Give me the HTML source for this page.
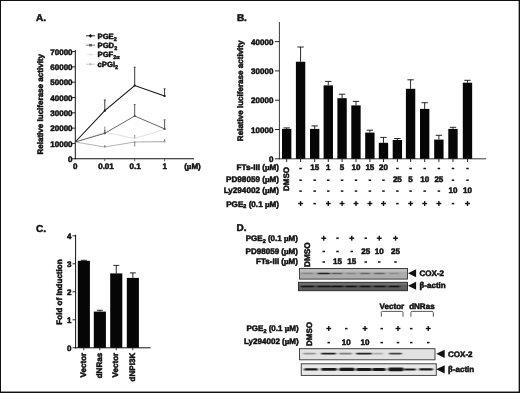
<!DOCTYPE html>
<html><head><meta charset="utf-8"><title>Figure</title>
<style>
html,body{margin:0;padding:0;background:#fff;}
body{width:520px;height:393px;overflow:hidden;position:relative;}
svg{position:absolute;left:0;top:0;display:block;text-rendering:geometricPrecision;}
text{stroke:#111;stroke-width:0.5px;stroke-linejoin:round;font-family:'Liberation Sans', Arial, Helvetica, sans-serif;}
</style></head>
<body>
<svg width="520" height="393" viewBox="0 0 520 393">
<rect x="0" y="0" width="520" height="393" fill="#fff"/>
<text x="36" y="21.1" font-size="10" text-anchor="start" fill="#111" font-weight="bold">A.</text>
<line x1="86" y1="35.8" x2="95" y2="35.8" stroke="#111" stroke-width="0.9"/>
<polygon points="90.5,33.9 92.4,35.8 90.5,37.699999999999996 88.6,35.8" fill="#111"/>
<text x="97.5" y="38.599999999999994" font-size="7.7" font-weight="bold" fill="#111">PGE<tspan font-size="5.4" dy="2">2</tspan></text>
<line x1="86" y1="45.2" x2="95" y2="45.2" stroke="#666" stroke-width="0.9"/>
<rect x="89.2" y="43.900000000000006" width="2.6" height="2.6" fill="#555"/>
<text x="97.5" y="48.0" font-size="7.7" font-weight="bold" fill="#111">PGD<tspan font-size="5.4" dy="2">2</tspan></text>
<line x1="86" y1="54.6" x2="95" y2="54.6" stroke="#e4e4e4" stroke-width="0.9"/>
<circle cx="90.5" cy="54.6" r="1.3" fill="#e4e4e4"/>
<text x="97.5" y="57.4" font-size="7.7" font-weight="bold" fill="#111">PGF<tspan font-size="5.4" dy="2">2α</tspan></text>
<line x1="86" y1="64.2" x2="95" y2="64.2" stroke="#c4c4c4" stroke-width="0.9"/>
<circle cx="90.5" cy="64.2" r="1.3" fill="#c4c4c4"/>
<text x="97.5" y="67.0" font-size="7.7" font-weight="bold" fill="#111">cPGI<tspan font-size="5.4" dy="2">2</tspan></text>
<line x1="75.3" y1="50" x2="75.3" y2="159.25" stroke="#111" stroke-width="1"/>
<line x1="74.8" y1="158.75" x2="194" y2="158.75" stroke="#111" stroke-width="1"/>
<line x1="72.1" y1="158.75" x2="75.3" y2="158.75" stroke="#111" stroke-width="0.9"/>
<text x="72.6" y="161.85" font-size="8.05" text-anchor="end" fill="#111" font-weight="bold">0</text>
<line x1="72.1" y1="143.44" x2="75.3" y2="143.44" stroke="#111" stroke-width="0.9"/>
<text x="72.6" y="146.54" font-size="8.05" text-anchor="end" fill="#111" font-weight="bold">10000</text>
<line x1="72.1" y1="128.13" x2="75.3" y2="128.13" stroke="#111" stroke-width="0.9"/>
<text x="72.6" y="131.23" font-size="8.05" text-anchor="end" fill="#111" font-weight="bold">20000</text>
<line x1="72.1" y1="112.82" x2="75.3" y2="112.82" stroke="#111" stroke-width="0.9"/>
<text x="72.6" y="115.91999999999999" font-size="8.05" text-anchor="end" fill="#111" font-weight="bold">30000</text>
<line x1="72.1" y1="97.50999999999999" x2="75.3" y2="97.50999999999999" stroke="#111" stroke-width="0.9"/>
<text x="72.6" y="100.60999999999999" font-size="8.05" text-anchor="end" fill="#111" font-weight="bold">40000</text>
<line x1="72.1" y1="82.2" x2="75.3" y2="82.2" stroke="#111" stroke-width="0.9"/>
<text x="72.6" y="85.3" font-size="8.05" text-anchor="end" fill="#111" font-weight="bold">50000</text>
<line x1="72.1" y1="66.89" x2="75.3" y2="66.89" stroke="#111" stroke-width="0.9"/>
<text x="72.6" y="69.99" font-size="8.05" text-anchor="end" fill="#111" font-weight="bold">60000</text>
<line x1="72.1" y1="51.58" x2="75.3" y2="51.58" stroke="#111" stroke-width="0.9"/>
<text x="72.6" y="54.68" font-size="8.05" text-anchor="end" fill="#111" font-weight="bold">70000</text>
<text x="75.3" y="168.5" font-size="8.05" text-anchor="middle" fill="#111" font-weight="bold">0</text>
<text x="106.0" y="168.5" font-size="8.05" text-anchor="middle" fill="#111" font-weight="bold">0.01</text>
<line x1="104.8" y1="158.75" x2="104.8" y2="161.15" stroke="#333" stroke-width="0.8"/>
<text x="135.2" y="168.5" font-size="8.05" text-anchor="middle" fill="#111" font-weight="bold">0.1</text>
<line x1="134.7" y1="158.75" x2="134.7" y2="161.15" stroke="#333" stroke-width="0.8"/>
<text x="164.79999999999998" y="168.5" font-size="8.05" text-anchor="middle" fill="#111" font-weight="bold">1</text>
<line x1="164.6" y1="158.75" x2="164.6" y2="161.15" stroke="#333" stroke-width="0.8"/>
<text x="192.5" y="168.5" font-size="8.05" font-weight="bold" text-anchor="middle" fill="#111">(<tspan font-family="Liberation Serif, serif" font-weight="bold">μ</tspan>M)</text>
<text x="43.3" y="104.3" font-size="8.05" text-anchor="middle" fill="#111" font-weight="bold" transform="rotate(-90 43.3 104.3)">Relative luciferase activity</text>
<polyline points="75.2,142 104.8,132.2 134.7,138.5 164.6,129.2" fill="none" stroke="#e2e2e2" stroke-width="1"/>
<circle cx="104.8" cy="132.2" r="1.1" fill="#e2e2e2"/>
<circle cx="134.7" cy="138.5" r="1.1" fill="#e2e2e2"/>
<circle cx="164.6" cy="129.2" r="1.1" fill="#e2e2e2"/>
<line x1="104.8" y1="131" x2="104.8" y2="127" stroke="#888" stroke-width="0.9"/>
<line x1="104.3" y1="127" x2="105.3" y2="127" stroke="#888" stroke-width="0.8"/>
<line x1="134.7" y1="138" x2="134.7" y2="135.5" stroke="#888" stroke-width="0.9"/>
<line x1="134.2" y1="135.5" x2="135.2" y2="135.5" stroke="#888" stroke-width="0.8"/>
<polyline points="75.2,142 104.8,147.0 134.7,142 164.6,141.6" fill="none" stroke="#b4b4b4" stroke-width="1.1"/>
<circle cx="104.8" cy="147.0" r="1.1" fill="#b4b4b4"/>
<circle cx="134.7" cy="142" r="1.1" fill="#b4b4b4"/>
<circle cx="164.6" cy="141.6" r="1.1" fill="#b4b4b4"/>
<line x1="104.8" y1="147" x2="104.8" y2="145.6" stroke="#777" stroke-width="0.9"/>
<line x1="104.3" y1="145.6" x2="105.3" y2="145.6" stroke="#777" stroke-width="0.8"/>
<line x1="134.7" y1="142" x2="134.7" y2="146" stroke="#777" stroke-width="0.9"/>
<line x1="134.2" y1="146" x2="135.2" y2="146" stroke="#777" stroke-width="0.8"/>
<line x1="164.6" y1="141.6" x2="164.6" y2="139.5" stroke="#777" stroke-width="0.9"/>
<line x1="164.1" y1="139.5" x2="165.1" y2="139.5" stroke="#777" stroke-width="0.8"/>
<polyline points="75.2,142 104.8,133.3 134.7,116 164.6,128.9" fill="none" stroke="#555" stroke-width="0.9"/>
<circle cx="104.8" cy="133.3" r="1.1" fill="#555"/>
<circle cx="134.7" cy="116" r="1.1" fill="#555"/>
<circle cx="164.6" cy="128.9" r="1.1" fill="#555"/>
<line x1="134.7" y1="116" x2="134.7" y2="104.6" stroke="#444" stroke-width="0.9"/>
<line x1="133.7" y1="104.6" x2="135.7" y2="104.6" stroke="#444" stroke-width="0.8"/>
<line x1="164.6" y1="128.9" x2="164.6" y2="119.8" stroke="#444" stroke-width="0.9"/>
<line x1="163.6" y1="119.8" x2="165.6" y2="119.8" stroke="#444" stroke-width="0.8"/>
<line x1="104.8" y1="133.3" x2="104.8" y2="130.5" stroke="#444" stroke-width="0.8"/>
<line x1="104.3" y1="130.5" x2="105.3" y2="130.5" stroke="#444" stroke-width="0.8"/>
<polyline points="75.2,142 104.8,110.7 134.7,85.5 164.6,96.0" fill="none" stroke="#111" stroke-width="1.05"/>
<circle cx="104.8" cy="110.7" r="1.1" fill="#111"/>
<circle cx="134.7" cy="85.5" r="1.1" fill="#111"/>
<circle cx="164.6" cy="96.0" r="1.1" fill="#111"/>
<line x1="104.8" y1="110.7" x2="104.8" y2="100" stroke="#222" stroke-width="0.9"/>
<line x1="103.8" y1="100" x2="105.8" y2="100" stroke="#222" stroke-width="0.8"/>
<line x1="134.7" y1="85.5" x2="134.7" y2="67.2" stroke="#222" stroke-width="0.9"/>
<line x1="133.7" y1="67.2" x2="135.7" y2="67.2" stroke="#222" stroke-width="0.8"/>
<line x1="164.6" y1="96" x2="164.6" y2="88.8" stroke="#222" stroke-width="0.9"/>
<line x1="163.6" y1="88.8" x2="165.6" y2="88.8" stroke="#222" stroke-width="0.8"/>
<text x="236.9" y="20.6" font-size="10" text-anchor="start" fill="#111" font-weight="bold">B.</text>
<line x1="279.4" y1="22" x2="279.4" y2="159.25" stroke="#222" stroke-width="0.9"/>
<line x1="278.95" y1="158.8" x2="486.2" y2="158.8" stroke="#222" stroke-width="0.9"/>
<line x1="274.9" y1="158.8" x2="279.4" y2="158.8" stroke="#111" stroke-width="0.9"/>
<text x="273.4" y="161.8" font-size="8.05" text-anchor="end" fill="#111" font-weight="bold">0</text>
<line x1="274.9" y1="129.5" x2="279.4" y2="129.5" stroke="#111" stroke-width="0.9"/>
<text x="273.4" y="132.5" font-size="8.05" text-anchor="end" fill="#111" font-weight="bold">10000</text>
<line x1="274.9" y1="100.20000000000002" x2="279.4" y2="100.20000000000002" stroke="#111" stroke-width="0.9"/>
<text x="273.4" y="103.20000000000002" font-size="8.05" text-anchor="end" fill="#111" font-weight="bold">20000</text>
<line x1="274.9" y1="70.9" x2="279.4" y2="70.9" stroke="#111" stroke-width="0.9"/>
<text x="273.4" y="73.9" font-size="8.05" text-anchor="end" fill="#111" font-weight="bold">30000</text>
<line x1="274.9" y1="41.60000000000001" x2="279.4" y2="41.60000000000001" stroke="#111" stroke-width="0.9"/>
<text x="273.4" y="44.60000000000001" font-size="8.05" text-anchor="end" fill="#111" font-weight="bold">40000</text>
<text x="242.7" y="90.8" font-size="8.05" text-anchor="middle" fill="#111" font-weight="bold" transform="rotate(-90 242.7 90.8)">Relative luciferase activity</text>
<rect x="282.00" y="128.90" width="9.35" height="29.90" fill="#060606"/>
<line x1="286.68" y1="128.9" x2="286.68" y2="127.9" stroke="#111" stroke-width="0.9"/>
<line x1="283.48" y1="127.9" x2="289.88" y2="127.9" stroke="#111" stroke-width="0.9"/>
<line x1="286.68" y1="158.8" x2="286.68" y2="162.0" stroke="#111" stroke-width="0.9"/>
<rect x="295.90" y="61.75" width="9.35" height="97.05" fill="#060606"/>
<line x1="300.58" y1="61.75" x2="300.58" y2="47" stroke="#111" stroke-width="0.9"/>
<line x1="297.38" y1="47" x2="303.78" y2="47" stroke="#111" stroke-width="0.9"/>
<line x1="300.58" y1="158.8" x2="300.58" y2="162.0" stroke="#111" stroke-width="0.9"/>
<rect x="310.00" y="128.90" width="9.35" height="29.90" fill="#060606"/>
<line x1="314.68" y1="128.9" x2="314.68" y2="125.9" stroke="#111" stroke-width="0.9"/>
<line x1="311.48" y1="125.9" x2="317.88" y2="125.9" stroke="#111" stroke-width="0.9"/>
<line x1="314.68" y1="158.8" x2="314.68" y2="162.0" stroke="#111" stroke-width="0.9"/>
<rect x="323.60" y="85.40" width="9.35" height="73.40" fill="#060606"/>
<line x1="328.28000000000003" y1="85.4" x2="328.28000000000003" y2="81.4" stroke="#111" stroke-width="0.9"/>
<line x1="325.08000000000004" y1="81.4" x2="331.48" y2="81.4" stroke="#111" stroke-width="0.9"/>
<line x1="328.28000000000003" y1="158.8" x2="328.28000000000003" y2="162.0" stroke="#111" stroke-width="0.9"/>
<rect x="337.40" y="98.20" width="9.35" height="60.60" fill="#060606"/>
<line x1="342.08" y1="98.2" x2="342.08" y2="94.2" stroke="#111" stroke-width="0.9"/>
<line x1="338.88" y1="94.2" x2="345.28" y2="94.2" stroke="#111" stroke-width="0.9"/>
<line x1="342.08" y1="158.8" x2="342.08" y2="162.0" stroke="#111" stroke-width="0.9"/>
<rect x="351.30" y="105.40" width="9.35" height="53.40" fill="#060606"/>
<line x1="355.98" y1="105.4" x2="355.98" y2="101.4" stroke="#111" stroke-width="0.9"/>
<line x1="352.78000000000003" y1="101.4" x2="359.18" y2="101.4" stroke="#111" stroke-width="0.9"/>
<line x1="355.98" y1="158.8" x2="355.98" y2="162.0" stroke="#111" stroke-width="0.9"/>
<rect x="365.20" y="132.60" width="9.35" height="26.20" fill="#060606"/>
<line x1="369.88" y1="132.6" x2="369.88" y2="130.2" stroke="#111" stroke-width="0.9"/>
<line x1="366.68" y1="130.2" x2="373.08" y2="130.2" stroke="#111" stroke-width="0.9"/>
<line x1="369.88" y1="158.8" x2="369.88" y2="162.0" stroke="#111" stroke-width="0.9"/>
<rect x="378.80" y="142.80" width="9.35" height="16.00" fill="#060606"/>
<line x1="383.48" y1="142.8" x2="383.48" y2="137.4" stroke="#111" stroke-width="0.9"/>
<line x1="380.28000000000003" y1="137.4" x2="386.68" y2="137.4" stroke="#111" stroke-width="0.9"/>
<line x1="383.48" y1="158.8" x2="383.48" y2="162.0" stroke="#111" stroke-width="0.9"/>
<rect x="392.70" y="140.00" width="9.35" height="18.80" fill="#060606"/>
<line x1="397.38" y1="140" x2="397.38" y2="138.5" stroke="#111" stroke-width="0.9"/>
<line x1="394.18" y1="138.5" x2="400.58" y2="138.5" stroke="#111" stroke-width="0.9"/>
<line x1="397.38" y1="158.8" x2="397.38" y2="162.0" stroke="#111" stroke-width="0.9"/>
<rect x="405.90" y="88.80" width="9.35" height="70.00" fill="#060606"/>
<line x1="410.58" y1="88.8" x2="410.58" y2="79.8" stroke="#111" stroke-width="0.9"/>
<line x1="407.38" y1="79.8" x2="413.78" y2="79.8" stroke="#111" stroke-width="0.9"/>
<line x1="410.58" y1="158.8" x2="410.58" y2="162.0" stroke="#111" stroke-width="0.9"/>
<rect x="420.00" y="108.90" width="9.35" height="49.90" fill="#060606"/>
<line x1="424.68" y1="108.9" x2="424.68" y2="102.7" stroke="#111" stroke-width="0.9"/>
<line x1="421.48" y1="102.7" x2="427.88" y2="102.7" stroke="#111" stroke-width="0.9"/>
<line x1="424.68" y1="158.8" x2="424.68" y2="162.0" stroke="#111" stroke-width="0.9"/>
<rect x="434.20" y="139.60" width="9.35" height="19.20" fill="#060606"/>
<line x1="438.88" y1="139.6" x2="438.88" y2="135.3" stroke="#111" stroke-width="0.9"/>
<line x1="435.68" y1="135.3" x2="442.08" y2="135.3" stroke="#111" stroke-width="0.9"/>
<line x1="438.88" y1="158.8" x2="438.88" y2="162.0" stroke="#111" stroke-width="0.9"/>
<rect x="448.30" y="128.90" width="9.35" height="29.90" fill="#060606"/>
<line x1="452.98" y1="128.9" x2="452.98" y2="127.3" stroke="#111" stroke-width="0.9"/>
<line x1="449.78000000000003" y1="127.3" x2="456.18" y2="127.3" stroke="#111" stroke-width="0.9"/>
<line x1="452.98" y1="158.8" x2="452.98" y2="162.0" stroke="#111" stroke-width="0.9"/>
<rect x="462.80" y="82.70" width="9.35" height="76.10" fill="#060606"/>
<line x1="467.48" y1="82.7" x2="467.48" y2="80.3" stroke="#111" stroke-width="0.9"/>
<line x1="464.28000000000003" y1="80.3" x2="470.68" y2="80.3" stroke="#111" stroke-width="0.9"/>
<line x1="467.48" y1="158.8" x2="467.48" y2="162.0" stroke="#111" stroke-width="0.9"/>
<text x="279.0" y="170.0" font-size="8.15" font-weight="bold" text-anchor="end" fill="#111">FTs-III (<tspan font-family="Liberation Serif, serif" font-weight="bold">μ</tspan>M)</text>
<text x="279.0" y="182.4" font-size="8.15" font-weight="bold" text-anchor="end" fill="#111">PD98059 (<tspan font-family="Liberation Serif, serif" font-weight="bold">μ</tspan>M)</text>
<text x="279.0" y="193.3" font-size="8.15" font-weight="bold" text-anchor="end" fill="#111">Ly294002 (<tspan font-family="Liberation Serif, serif" font-weight="bold">μ</tspan>M)</text>
<text x="279.0" y="206.5" font-size="8.15" font-weight="bold" text-anchor="end" fill="#111">PGE<tspan font-size="5.5" dy="1.6">2</tspan><tspan dy="-1.6"> (0.1 <tspan font-family="Liberation Serif, serif" font-weight="bold">μ</tspan>M)</tspan></text>
<text x="289.28" y="179.0" font-size="8" text-anchor="middle" fill="#111" font-weight="bold" transform="rotate(-90 289.28 179.0)">DMSO</text>
<rect x="299.33" y="167.75" width="2.50" height="1.50" fill="#111"/>
<text x="314.68" y="169.9" font-size="8.05" text-anchor="middle" fill="#111" font-weight="bold">15</text>
<text x="328.28000000000003" y="169.9" font-size="8.05" text-anchor="middle" fill="#111" font-weight="bold">1</text>
<text x="342.08" y="169.9" font-size="8.05" text-anchor="middle" fill="#111" font-weight="bold">5</text>
<text x="355.98" y="169.9" font-size="8.05" text-anchor="middle" fill="#111" font-weight="bold">10</text>
<text x="369.88" y="169.9" font-size="8.05" text-anchor="middle" fill="#111" font-weight="bold">15</text>
<text x="383.48" y="169.9" font-size="8.05" text-anchor="middle" fill="#111" font-weight="bold">20</text>
<rect x="396.13" y="167.75" width="2.50" height="1.50" fill="#111"/>
<rect x="409.33" y="167.75" width="2.50" height="1.50" fill="#111"/>
<rect x="423.43" y="167.75" width="2.50" height="1.50" fill="#111"/>
<rect x="437.63" y="167.75" width="2.50" height="1.50" fill="#111"/>
<rect x="451.73" y="167.75" width="2.50" height="1.50" fill="#111"/>
<rect x="466.23" y="167.75" width="2.50" height="1.50" fill="#111"/>
<rect x="299.33" y="179.45" width="2.50" height="1.50" fill="#111"/>
<rect x="313.43" y="179.45" width="2.50" height="1.50" fill="#111"/>
<rect x="327.03" y="179.45" width="2.50" height="1.50" fill="#111"/>
<rect x="340.83" y="179.45" width="2.50" height="1.50" fill="#111"/>
<rect x="354.73" y="179.45" width="2.50" height="1.50" fill="#111"/>
<rect x="368.63" y="179.45" width="2.50" height="1.50" fill="#111"/>
<rect x="382.23" y="179.45" width="2.50" height="1.50" fill="#111"/>
<text x="397.38" y="182.3" font-size="8.05" text-anchor="middle" fill="#111" font-weight="bold">25</text>
<text x="410.58" y="182.3" font-size="8.05" text-anchor="middle" fill="#111" font-weight="bold">5</text>
<text x="424.68" y="182.3" font-size="8.05" text-anchor="middle" fill="#111" font-weight="bold">10</text>
<text x="438.88" y="182.3" font-size="8.05" text-anchor="middle" fill="#111" font-weight="bold">25</text>
<rect x="451.73" y="179.45" width="2.50" height="1.50" fill="#111"/>
<rect x="466.23" y="179.45" width="2.50" height="1.50" fill="#111"/>
<rect x="299.33" y="190.35" width="2.50" height="1.50" fill="#111"/>
<rect x="313.43" y="190.35" width="2.50" height="1.50" fill="#111"/>
<rect x="327.03" y="190.35" width="2.50" height="1.50" fill="#111"/>
<rect x="340.83" y="190.35" width="2.50" height="1.50" fill="#111"/>
<rect x="354.73" y="190.35" width="2.50" height="1.50" fill="#111"/>
<rect x="368.63" y="190.35" width="2.50" height="1.50" fill="#111"/>
<rect x="382.23" y="190.35" width="2.50" height="1.50" fill="#111"/>
<rect x="396.13" y="190.35" width="2.50" height="1.50" fill="#111"/>
<rect x="409.33" y="190.35" width="2.50" height="1.50" fill="#111"/>
<rect x="423.43" y="190.35" width="2.50" height="1.50" fill="#111"/>
<rect x="437.63" y="190.35" width="2.50" height="1.50" fill="#111"/>
<text x="452.98" y="193.20000000000002" font-size="8.05" text-anchor="middle" fill="#111" font-weight="bold">10</text>
<text x="467.48" y="193.20000000000002" font-size="8.05" text-anchor="middle" fill="#111" font-weight="bold">10</text>
<rect x="298.13" y="202.80" width="4.90" height="1.40" fill="#111"/>
<rect x="299.88" y="201.05" width="1.40" height="4.90" fill="#111"/>
<rect x="313.43" y="202.85" width="2.50" height="1.50" fill="#111"/>
<rect x="325.83" y="202.80" width="4.90" height="1.40" fill="#111"/>
<rect x="327.58" y="201.05" width="1.40" height="4.90" fill="#111"/>
<rect x="339.63" y="202.80" width="4.90" height="1.40" fill="#111"/>
<rect x="341.38" y="201.05" width="1.40" height="4.90" fill="#111"/>
<rect x="353.53" y="202.80" width="4.90" height="1.40" fill="#111"/>
<rect x="355.28" y="201.05" width="1.40" height="4.90" fill="#111"/>
<rect x="367.43" y="202.80" width="4.90" height="1.40" fill="#111"/>
<rect x="369.18" y="201.05" width="1.40" height="4.90" fill="#111"/>
<rect x="381.03" y="202.80" width="4.90" height="1.40" fill="#111"/>
<rect x="382.78" y="201.05" width="1.40" height="4.90" fill="#111"/>
<rect x="396.13" y="202.85" width="2.50" height="1.50" fill="#111"/>
<rect x="408.13" y="202.80" width="4.90" height="1.40" fill="#111"/>
<rect x="409.88" y="201.05" width="1.40" height="4.90" fill="#111"/>
<rect x="422.23" y="202.80" width="4.90" height="1.40" fill="#111"/>
<rect x="423.98" y="201.05" width="1.40" height="4.90" fill="#111"/>
<rect x="436.43" y="202.80" width="4.90" height="1.40" fill="#111"/>
<rect x="438.18" y="201.05" width="1.40" height="4.90" fill="#111"/>
<rect x="451.73" y="202.85" width="2.50" height="1.50" fill="#111"/>
<rect x="465.03" y="202.80" width="4.90" height="1.40" fill="#111"/>
<rect x="466.78" y="201.05" width="1.40" height="4.90" fill="#111"/>
<text x="36" y="231.8" font-size="10" text-anchor="start" fill="#111" font-weight="bold">C.</text>
<line x1="75.6" y1="234.7" x2="75.6" y2="348.3" stroke="#111" stroke-width="1.0"/>
<line x1="75.1" y1="347.8" x2="150.6" y2="347.8" stroke="#111" stroke-width="1.0"/>
<line x1="72.5" y1="347.8" x2="75.6" y2="347.8" stroke="#111" stroke-width="0.9"/>
<text x="71.39999999999999" y="350.8" font-size="8.05" text-anchor="end" fill="#111" font-weight="bold">0</text>
<line x1="72.5" y1="319.8" x2="75.6" y2="319.8" stroke="#111" stroke-width="0.9"/>
<text x="71.39999999999999" y="322.8" font-size="8.05" text-anchor="end" fill="#111" font-weight="bold">1</text>
<line x1="72.5" y1="291.8" x2="75.6" y2="291.8" stroke="#111" stroke-width="0.9"/>
<text x="71.39999999999999" y="294.8" font-size="8.05" text-anchor="end" fill="#111" font-weight="bold">2</text>
<line x1="72.5" y1="263.8" x2="75.6" y2="263.8" stroke="#111" stroke-width="0.9"/>
<text x="71.39999999999999" y="266.8" font-size="8.05" text-anchor="end" fill="#111" font-weight="bold">3</text>
<line x1="72.5" y1="235.8" x2="75.6" y2="235.8" stroke="#111" stroke-width="0.9"/>
<text x="71.39999999999999" y="238.8" font-size="8.05" text-anchor="end" fill="#111" font-weight="bold">4</text>
<text x="61.7" y="292" font-size="8.05" text-anchor="middle" fill="#111" font-weight="bold" transform="rotate(-90 61.7 292)">Fold of Induction</text>
<rect x="77.80" y="260.80" width="12.10" height="87.00" fill="#060606"/>
<line x1="83.85" y1="260.8" x2="83.85" y2="260.3" stroke="#111" stroke-width="0.9"/>
<line x1="80.85" y1="260.3" x2="86.85" y2="260.3" stroke="#111" stroke-width="0.9"/>
<line x1="83.85" y1="347.8" x2="83.85" y2="350.3" stroke="#111" stroke-width="0.8"/>
<text x="85.75" y="352.8" font-size="8.05" text-anchor="end" fill="#111" font-weight="bold" transform="rotate(-90 85.75 352.8)">Vector</text>
<rect x="93.80" y="311.60" width="12.10" height="36.20" fill="#060606"/>
<line x1="99.85" y1="311.6" x2="99.85" y2="310.3" stroke="#111" stroke-width="0.9"/>
<line x1="96.85" y1="310.3" x2="102.85" y2="310.3" stroke="#111" stroke-width="0.9"/>
<line x1="99.85" y1="347.8" x2="99.85" y2="350.3" stroke="#111" stroke-width="0.8"/>
<text x="101.75" y="352.8" font-size="8.05" text-anchor="end" fill="#111" font-weight="bold" transform="rotate(-90 101.75 352.8)">dNRas</text>
<rect x="110.20" y="273.40" width="12.10" height="74.40" fill="#060606"/>
<line x1="116.25" y1="273.4" x2="116.25" y2="265.4" stroke="#111" stroke-width="0.9"/>
<line x1="113.25" y1="265.4" x2="119.25" y2="265.4" stroke="#111" stroke-width="0.9"/>
<line x1="116.25" y1="347.8" x2="116.25" y2="350.3" stroke="#111" stroke-width="0.8"/>
<text x="118.15" y="352.8" font-size="8.05" text-anchor="end" fill="#111" font-weight="bold" transform="rotate(-90 118.15 352.8)">Vector</text>
<rect x="126.80" y="277.90" width="12.10" height="69.90" fill="#060606"/>
<line x1="132.85" y1="277.9" x2="132.85" y2="272.9" stroke="#111" stroke-width="0.9"/>
<line x1="129.85" y1="272.9" x2="135.85" y2="272.9" stroke="#111" stroke-width="0.9"/>
<line x1="132.85" y1="347.8" x2="132.85" y2="350.3" stroke="#111" stroke-width="0.8"/>
<text x="134.75" y="352.8" font-size="8.05" text-anchor="end" fill="#111" font-weight="bold" transform="rotate(-90 134.75 352.8)">dNPI3K</text>
<text x="236.5" y="230.9" font-size="10" text-anchor="start" fill="#111" font-weight="bold">D.</text>
<text x="298" y="241.1" font-size="8.05" font-weight="bold" text-anchor="end" fill="#111">PGE<tspan font-size="5.5" dy="1.6">2</tspan><tspan dy="-1.6"> (0.1 <tspan font-family="Liberation Serif, serif" font-weight="bold">μ</tspan>M)</tspan></text>
<text x="298" y="253.5" font-size="8.05" font-weight="bold" text-anchor="end" fill="#111">PD98059 (<tspan font-family="Liberation Serif, serif" font-weight="bold">μ</tspan>M)</text>
<text x="298" y="263.9" font-size="8.05" font-weight="bold" text-anchor="end" fill="#111">FTs-III (<tspan font-family="Liberation Serif, serif" font-weight="bold">μ</tspan>M)</text>
<text x="310.29999999999995" y="254.7" font-size="8.2" text-anchor="middle" fill="#111" font-weight="bold" transform="rotate(-90 310.29999999999995 254.7)">DMSO</text>
<rect x="321.30" y="237.50" width="4.90" height="1.40" fill="#111"/>
<rect x="323.05" y="235.75" width="1.40" height="4.90" fill="#111"/>
<rect x="336.25" y="237.45" width="2.50" height="1.50" fill="#111"/>
<rect x="349.30" y="237.50" width="4.90" height="1.40" fill="#111"/>
<rect x="351.05" y="235.75" width="1.40" height="4.90" fill="#111"/>
<rect x="364.50" y="237.45" width="2.50" height="1.50" fill="#111"/>
<rect x="376.80" y="237.50" width="4.90" height="1.40" fill="#111"/>
<rect x="378.55" y="235.75" width="1.40" height="4.90" fill="#111"/>
<rect x="393.05" y="237.50" width="4.90" height="1.40" fill="#111"/>
<rect x="394.80" y="235.75" width="1.40" height="4.90" fill="#111"/>
<rect x="322.50" y="250.75" width="2.50" height="1.50" fill="#111"/>
<rect x="336.25" y="250.75" width="2.50" height="1.50" fill="#111"/>
<rect x="350.50" y="250.75" width="2.50" height="1.50" fill="#111"/>
<text x="365.75" y="253.5" font-size="8.05" text-anchor="middle" fill="#111" font-weight="bold">25</text>
<text x="379.25" y="253.5" font-size="8.05" text-anchor="middle" fill="#111" font-weight="bold">10</text>
<text x="395.5" y="253.5" font-size="8.05" text-anchor="middle" fill="#111" font-weight="bold">25</text>
<rect x="322.50" y="261.25" width="2.50" height="1.50" fill="#111"/>
<text x="337.5" y="263.9" font-size="8.05" text-anchor="middle" fill="#111" font-weight="bold">15</text>
<text x="351.75" y="263.9" font-size="8.05" text-anchor="middle" fill="#111" font-weight="bold">15</text>
<rect x="364.50" y="261.25" width="2.50" height="1.50" fill="#111"/>
<rect x="378.00" y="261.25" width="2.50" height="1.50" fill="#111"/>
<rect x="394.25" y="261.25" width="2.50" height="1.50" fill="#111"/>
<defs><filter id="bl" x="-20%" y="-100%" width="140%" height="300%"><feGaussianBlur stdDeviation="0.9 0.45"/></filter></defs>
<rect x="299.50" y="268.50" width="108.00" height="10.60" fill="#adadad" stroke="#333" stroke-width="0.9"/>
<rect x="300.00" y="269.20" width="107.00" height="2.60" fill="#bebebe"/>
<rect x="301.5" y="272.65" width="12.0" height="1.7" rx="0.85" fill="#777" opacity="0.7" filter="url(#bl)"/>
<rect x="317.5" y="272.65" width="12.5" height="1.7" rx="0.85" fill="#222" opacity="1" filter="url(#bl)"/>
<rect x="331.5" y="272.65" width="11.0" height="1.7" rx="0.85" fill="#555" opacity="0.9" filter="url(#bl)"/>
<rect x="346" y="272.65" width="10" height="1.7" rx="0.85" fill="#777" opacity="0.7" filter="url(#bl)"/>
<rect x="360" y="272.65" width="10" height="1.7" rx="0.85" fill="#555" opacity="0.8" filter="url(#bl)"/>
<rect x="374" y="272.65" width="11" height="1.7" rx="0.85" fill="#555" opacity="0.8" filter="url(#bl)"/>
<rect x="389" y="272.65" width="10" height="1.7" rx="0.85" fill="#777" opacity="0.6" filter="url(#bl)"/>
<rect x="298.50" y="282.30" width="109.00" height="8.40" fill="#5c5c5c" stroke="#222" stroke-width="0.9"/>
<rect x="299.00" y="282.90" width="108.00" height="2.00" fill="#707070"/>
<rect x="301.0" y="285.65" width="13.5" height="1.7" rx="0.85" fill="#0a0a0a" opacity="0.95" filter="url(#bl)"/>
<rect x="317.0" y="285.65" width="14.0" height="1.7" rx="0.85" fill="#0a0a0a" opacity="0.95" filter="url(#bl)"/>
<rect x="331.0" y="285.65" width="12.5" height="1.7" rx="0.85" fill="#0a0a0a" opacity="0.95" filter="url(#bl)"/>
<rect x="345.5" y="285.65" width="11.5" height="1.7" rx="0.85" fill="#0a0a0a" opacity="0.95" filter="url(#bl)"/>
<rect x="359.5" y="285.65" width="11.5" height="1.7" rx="0.85" fill="#0a0a0a" opacity="0.95" filter="url(#bl)"/>
<rect x="373.5" y="285.65" width="12.5" height="1.7" rx="0.85" fill="#0a0a0a" opacity="0.95" filter="url(#bl)"/>
<rect x="388.5" y="285.65" width="11.5" height="1.7" rx="0.85" fill="#0a0a0a" opacity="0.95" filter="url(#bl)"/>
<polygon points="408.0,273.3 416.1,269.3 416.1,277.3" fill="#111"/>
<polygon points="408.0,285.7 416.1,281.7 416.1,289.7" fill="#111"/>
<text x="419.5" y="276.4" font-size="8.05" text-anchor="start" fill="#111" font-weight="bold">COX-2</text>
<text x="419.5" y="288.4" font-size="8.05" font-weight="bold" fill="#111"><tspan font-family="Liberation Serif, serif" font-weight="bold" font-size="9">β</tspan>-actin</text>
<text x="391.9" y="308.7" font-size="8.05" text-anchor="middle" fill="#111" font-weight="bold">Vector</text>
<text x="421.9" y="308.7" font-size="8.05" text-anchor="middle" fill="#111" font-weight="bold">dNRas</text>
<path d="M381.3,316.7 V312.6 Q381.3,311.4 382.5,311.4 H401.8 Q403,311.4 403,312.6 V316.7" fill="none" stroke="#444" stroke-width="0.9"/>
<path d="M410.9,316.7 V312.6 Q410.9,311.4 412.1,311.4 H432.1 Q433.3,311.4 433.3,312.6 V316.7" fill="none" stroke="#444" stroke-width="0.9"/>
<text x="298.75" y="331" font-size="8.05" font-weight="bold" text-anchor="end" fill="#111">PGE<tspan font-size="5.5" dy="1.6">2</tspan><tspan dy="-1.6"> (0.1 <tspan font-family="Liberation Serif, serif" font-weight="bold">μ</tspan>M)</tspan></text>
<text x="298.75" y="344" font-size="8.05" font-weight="bold" text-anchor="end" fill="#111">Ly294002 (<tspan font-family="Liberation Serif, serif" font-weight="bold">μ</tspan>M)</text>
<text x="312.29999999999995" y="334" font-size="8.0" text-anchor="middle" fill="#111" font-weight="bold" transform="rotate(-90 312.29999999999995 334)">DMSO</text>
<rect x="326.30" y="327.80" width="4.90" height="1.40" fill="#111"/>
<rect x="328.05" y="326.05" width="1.40" height="4.90" fill="#111"/>
<rect x="345.00" y="327.85" width="2.50" height="1.50" fill="#111"/>
<rect x="362.55" y="327.80" width="4.90" height="1.40" fill="#111"/>
<rect x="364.30" y="326.05" width="1.40" height="4.90" fill="#111"/>
<rect x="380.50" y="327.85" width="2.50" height="1.50" fill="#111"/>
<rect x="395.55" y="327.80" width="4.90" height="1.40" fill="#111"/>
<rect x="397.30" y="326.05" width="1.40" height="4.90" fill="#111"/>
<rect x="410.00" y="327.85" width="2.50" height="1.50" fill="#111"/>
<rect x="425.80" y="327.80" width="4.90" height="1.40" fill="#111"/>
<rect x="427.55" y="326.05" width="1.40" height="4.90" fill="#111"/>
<rect x="327.50" y="341.85" width="2.50" height="1.50" fill="#111"/>
<text x="346.25" y="344.59999999999997" font-size="8.05" text-anchor="middle" fill="#111" font-weight="bold">10</text>
<text x="365" y="344.59999999999997" font-size="8.05" text-anchor="middle" fill="#111" font-weight="bold">10</text>
<rect x="380.50" y="341.85" width="2.50" height="1.50" fill="#111"/>
<rect x="396.75" y="341.85" width="2.50" height="1.50" fill="#111"/>
<rect x="410.00" y="341.85" width="2.50" height="1.50" fill="#111"/>
<rect x="427.00" y="341.85" width="2.50" height="1.50" fill="#111"/>
<rect x="299.50" y="348.70" width="135.50" height="11.10" fill="#e2e2e2" stroke="#333" stroke-width="0.9"/>
<rect x="303" y="352.8" width="13" height="1.6" rx="0.8" fill="#777" opacity="0.7" filter="url(#bl)"/>
<rect x="321" y="352.8" width="15" height="1.6" rx="0.8" fill="#222" opacity="1" filter="url(#bl)"/>
<rect x="339" y="352.8" width="13" height="1.6" rx="0.8" fill="#666" opacity="0.8" filter="url(#bl)"/>
<rect x="356" y="352.8" width="16" height="1.6" rx="0.8" fill="#222" opacity="1" filter="url(#bl)"/>
<rect x="373" y="352.8" width="10" height="1.6" rx="0.8" fill="#888" opacity="0.6" filter="url(#bl)"/>
<rect x="389" y="352.8" width="13" height="1.6" rx="0.8" fill="#333" opacity="0.9" filter="url(#bl)"/>
<rect x="301.25" y="363.80" width="135.00" height="11.60" fill="#e8e8e8" stroke="#333" stroke-width="0.9"/>
<rect x="304" y="368.2" width="14" height="2.4" rx="1.2" fill="#111" opacity="0.95" filter="url(#bl)"/>
<rect x="321" y="368.09999999999997" width="16" height="2.6" rx="1.3" fill="#111" opacity="0.95" filter="url(#bl)"/>
<rect x="339" y="367.79999999999995" width="16" height="3.2" rx="1.6" fill="#111" opacity="0.95" filter="url(#bl)"/>
<rect x="356" y="367.9" width="16" height="3" rx="1.5" fill="#111" opacity="0.95" filter="url(#bl)"/>
<rect x="372" y="367.9" width="14" height="3" rx="1.5" fill="#111" opacity="0.95" filter="url(#bl)"/>
<rect x="388" y="367.59999999999997" width="16" height="3.6" rx="1.8" fill="#111" opacity="0.95" filter="url(#bl)"/>
<rect x="404" y="368.4" width="12" height="2" rx="1.0" fill="#111" opacity="0.95" filter="url(#bl)"/>
<rect x="419" y="368.29999999999995" width="14" height="2.2" rx="1.1" fill="#111" opacity="0.95" filter="url(#bl)"/>
<polygon points="436.2,353.8 444.7,349.7 444.7,357.90000000000003" fill="#111"/>
<polygon points="436.2,369.3 444.7,365.2 444.7,373.40000000000003" fill="#111"/>
<text x="448" y="356.9" font-size="8.05" text-anchor="start" fill="#111" font-weight="bold">COX-2</text>
<text x="448" y="372" font-size="8.05" font-weight="bold" fill="#111"><tspan font-family="Liberation Serif, serif" font-weight="bold" font-size="9">β</tspan>-actin</text>
<rect x="0" y="0" width="520" height="1" fill="#111"/>
<rect x="0" y="0" width="1" height="393" fill="#111"/>
<rect x="518.65" y="0" width="1.35" height="393" fill="#111"/>
<rect x="0" y="391.55" width="520" height="1.45" fill="#111"/>
</svg>
</body></html>
